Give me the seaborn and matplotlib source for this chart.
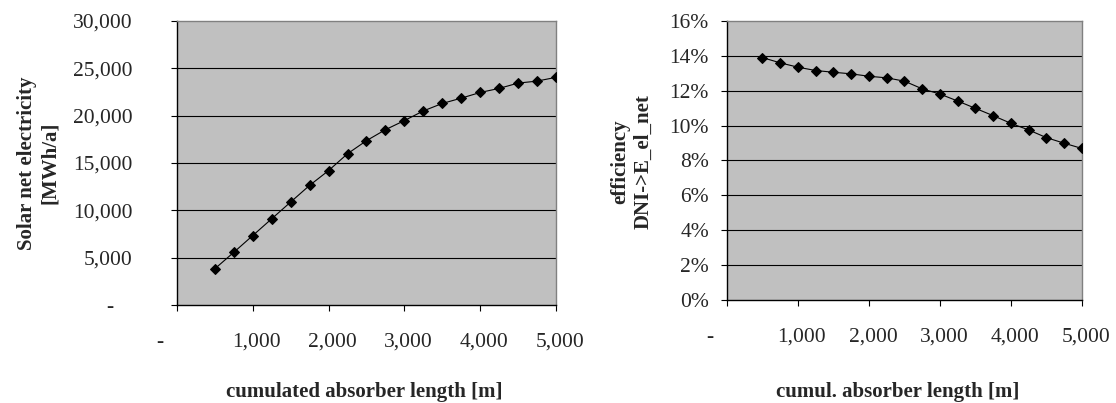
import matplotlib
matplotlib.use("Agg")
import matplotlib.pyplot as plt
import matplotlib.transforms as mtransforms
from matplotlib.ticker import FuncFormatter, PercentFormatter
import seaborn as sns
import pandas as pd

# absorber length [m]
absorber_length = [500, 750, 1000, 1250, 1500, 1750, 2000, 2250, 2500, 2750,
                   3000, 3250, 3500, 3750, 4000, 4250, 4500, 4750, 5000]
# solar net electricity [MWh/a]
net_electricity = [3830, 5570, 7340, 9110, 10880, 12640, 14200, 15980, 17360, 18520,
                   19480, 20500, 21290, 21850, 22450, 22880, 23440, 23650, 24050]
# efficiency DNI -> E_el_net
efficiency = [0.1390, 0.1360, 0.1335, 0.1316, 0.1306, 0.1297, 0.1283, 0.1274, 0.1255, 0.1211,
              0.1181, 0.1141, 0.1099, 0.1057, 0.1013, 0.0975, 0.0931, 0.0899, 0.0869]

x_ticks = [0, 1000, 2000, 3000, 4000, 5000]
left_yticks = [0, 5000, 10000, 15000, 20000, 25000, 30000]
right_yticks = [0, 0.02, 0.04, 0.06, 0.08, 0.10, 0.12, 0.14, 0.16]

df = pd.DataFrame({"length": absorber_length,
                   "electricity": net_electricity,
                   "efficiency": efficiency})

sns.set_theme(style="white")
plt.rcParams["font.family"] = ["Liberation Serif", "DejaVu Serif"]

fig = plt.figure(figsize=(11.16, 4.03), dpi=100)
ax1 = fig.add_axes([0.1586, 0.2432, 0.3396, 0.7047])
ax2 = fig.add_axes([0.6514, 0.2556, 0.3181, 0.6923])


def num_fmt(v, pos):
    return "-" if v == 0 else f"{v:,.0f}"


def style_axes(ax, ylim, yticks, ypad):
    ax.set_facecolor("#C0C0C0")
    ax.set_xlim(0, 5000)
    ax.set_ylim(*ylim)
    ax.set_xticks(x_ticks)
    ax.set_yticks(yticks)
    ax.xaxis.set_major_formatter(FuncFormatter(num_fmt))
    ax.grid(False)
    for y in yticks[1:-1]:
        ax.axhline(y, color="black", lw=0.8, zorder=1)
    for side in ["top", "right"]:
        ax.spines[side].set_color("#808080")
        ax.spines[side].set_linewidth(1.0)
    for side in ["left", "bottom"]:
        ax.spines[side].set_color("black")
        ax.spines[side].set_linewidth(1.0)
    ax.tick_params(axis="x", direction="out", length=4, width=0.8, color="black",
                   labelsize=15.5, pad=16, bottom=True)
    ax.tick_params(axis="y", direction="out", length=4, width=0.8, color="black",
                   labelsize=15.5, pad=ypad, left=True)


sns.lineplot(data=df, x="length", y="electricity", ax=ax1, color="black", lw=0.8,
             marker="D", markersize=5.5, markeredgecolor="black", zorder=3)
style_axes(ax1, (0, 30000), left_yticks, 28)
ax1.yaxis.set_major_formatter(FuncFormatter(num_fmt))
ax1.set_xlabel("cumulated absorber length [m]", fontsize=15, fontweight="bold")
ax1.set_ylabel("Solar net electricity\n[MWh/a]", fontsize=15, fontweight="bold",
               linespacing=1.2)
ax1.xaxis.set_label_coords(0.495, -0.272)
ax1.yaxis.set_label_coords(-0.309, 0.5)

sns.lineplot(data=df, x="length", y="efficiency", ax=ax2, color="black", lw=0.8,
             marker="D", markersize=5.5, markeredgecolor="black", zorder=3)
style_axes(ax2, (0, 0.16), right_yticks, 9)
ax2.yaxis.set_major_formatter(PercentFormatter(1.0, decimals=0))
ax2.set_xlabel("cumul. absorber length [m]", fontsize=15, fontweight="bold")
ax2.set_ylabel("efficiency\nDNI->E_el_net", fontsize=15, fontweight="bold",
               linespacing=1.2)
ax2.xaxis.set_label_coords(0.48, -0.295)
ax2.yaxis.set_label_coords(-0.208, 0.495)

fig.canvas.draw()


def shift(label, dx):
    label.set_transform(label.get_transform() +
                        mtransforms.ScaledTranslation(dx / 100, 0, fig.dpi_scale_trans))


for ax in (ax1, ax2):
    for i, lab in enumerate(ax.get_xticklabels()):
        shift(lab, -17 if i == 0 else 4)
shift(ax1.get_yticklabels()[0], -19)

fig.savefig("out.png", dpi=100)
